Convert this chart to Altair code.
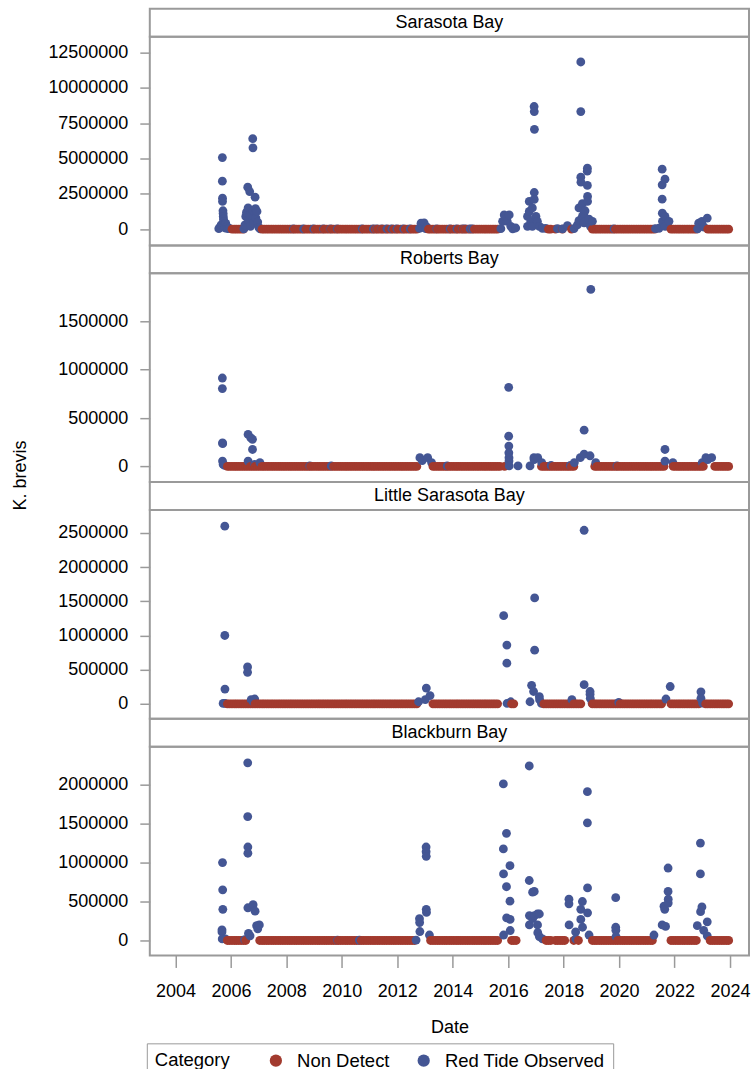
import altair as alt
import pandas as pd

# ---------------- data ----------------
bays = ["Sarasota Bay", "Roberts Bay", "Little Sarasota Bay", "Blackburn Bay"]
categories = ["Non Detect", "Red Tide Observed"]
cat_colors = ["#A23A2E", "#445694"]
year_ticks = list(range(2004, 2025, 2))

y_ticks = {
    "Sarasota Bay": [0, 2500000, 5000000, 7500000, 10000000, 12500000],
    "Roberts Bay": [0, 500000, 1000000, 1500000],
    "Little Sarasota Bay": [0, 500000, 1000000, 1500000, 2000000, 2500000],
    "Blackburn Bay": [0, 500000, 1000000, 1500000, 2000000],
}
y_domains = {
    "Sarasota Bay": [-1150000, 13610000],
    "Roberts Bay": [-162000, 1996000],
    "Little Sarasota Bay": [-219000, 2836000],
    "Blackburn Bay": [-192000, 2487000],
}

# Non Detect sampling months (K. brevis = 0), "year: months"
nd_sarasota = [
    "2006: 1 2 3 4 5 6", "2007: 2 3 4 5 6 7 8 9 10 11 12",
    "2008: 1 2 3 4 5 6 7 8 9 10 11 12", "2009: 1 2 3 4 5 6 7 8 9 10 11 12",
    "2010: 1 2 3 4 5 6 7 8 9 10 11 12", "2011: 1 2 3 4 5 6 7 8 9 10 11 12",
    "2012: 1 2 3 4 5 6 7 8 9", "2013: 2 3 4 5 6 7 8 9 10 11 12",
    "2014: 1 2 3 4 5 6 7 8 9 10 11 12", "2015: 1 2 3 4 5 6 7 8",
    "2017: 6 7 9 12", "2018: 4",
    "2019: 1 2 3 4 5 6 7 8 9 10 11 12", "2020: 1 2 3 4 5 6 7 8 9 10 11 12",
    "2021: 1 2 3 4 11 12", "2022: 1 2 3 4 5 6 7 8 9 10",
    "2023: 3 4 5 6 7 8 9 10 11 12",
]
nd_roberts = [
    "2005: 11 12", "2006: 1 2 3 4 5 6 7 8 9 10 11 12",
    "2007: 1 2 3 4 5 6 7 8 9 10 11 12", "2008: 1 2 3 4 5 6 7 8 9 10 11 12",
    "2009: 1 2 3 4 5 6 7 8 9 10 11 12", "2010: 1 2 3 4 5 6 7 8 9 10 11 12",
    "2011: 1 2 3 4 5 6 7 8 9 10 11 12", "2012: 1 2 3 4 5 6 7 8 9",
    "2013: 4 5 6 7 8 9 10 11 12", "2014: 1 2 3 4 5 6 7 8 9 10 11 12",
    "2015: 1 2 3 4 5 6 7 8 9 11", "2017: 3 4 5 6 7 8 9 10 11 12",
    "2018: 1 2 3 4 5", "2019: 2 3 4 5 6 7 8 9 10 11 12",
    "2020: 1 2 3 4 5 6 7 8 9 10 11 12", "2021: 1 2 3 4 5 6 7 8 12",
    "2022: 1 2 3 4 5 6 7 8 9 10 11 12", "2023: 1 6 7 8 9 10 11 12",
]
nd_little = [
    "2005: 11 12", "2006: 1 2 3 4 5 6 7 8 9 10 11 12",
    "2007: 1 2 3 4 5 6 7 8 9 10 11 12", "2008: 1 2 3 4 5 6 7 8 9 10 11 12",
    "2009: 1 2 3 4 5 6 7 8 9 10 11 12", "2010: 1 2 3 4 5 6 7 8 9 10 11 12",
    "2011: 1 2 3 4 5 6 7 8 9 10 11 12", "2012: 1 2 3 4 5 6 7 8 9",
    "2013: 4 5 6 7 8 9 10 11 12", "2014: 1 2 3 4 5 6 7 8 9 10 11 12",
    "2015: 1 2 3 4 5 6 7 8", "2016: 2 3", "2017: 4 5 6 7 8 9 10 11 12",
    "2018: 1 2 3 4 5 6 7 8", "2019: 1 2 3 4 5 6 7 8 9 10 11 12",
    "2020: 1 2 3 4 5 6 7 8 9 10 11 12", "2021: 1 2 3 4 5 6 7 11 12",
    "2022: 1 2 3 4 5 6 7 8 9 10 11", "2023: 2 3 4 5 6 7 8 9 10 11 12",
]
nd_blackburn = [
    "2005: 11 12", "2006: 1 2 3 4 5 6 7", "2007: 1 2 3 4 5 6 7 8 9 10 11 12",
    "2008: 1 2 3 4 5 6 7 8 9 10 11 12", "2009: 1 2 3 4 5 6 7 8 9 10 11 12",
    "2010: 1 2 3 4 5 6 7 8 9 10 11 12", "2011: 1 2 3 4 5 6 7 8 9 10 11 12",
    "2012: 1 2 3 4 5 6 7 8", "2013: 3 4 5 6 7 8 9 10 11 12",
    "2014: 1 2 3 4 5 6 7 8 9 10 11 12", "2015: 1 2 3 4 5 6 7 8",
    "2016: 2 3 4", "2017: 5 6 7 9 10 11 12", "2018: 1 5 7",
    "2019: 1 2 3 4 5 6 7 8 9 10 11 12", "2020: 1 2 3 4 5 6 7 8 9 10 11 12",
    "2021: 1 2 3 11 12", "2022: 1 2 3 4 5 6 7 8 9 10",
    "2023: 4 5 6 7 8 9 10 11 12",
]

# Red Tide Observed samples (date, cells/L)
rt_sarasota = [
    ("2005-07-25", 30000), ("2005-08-10", 120000), ("2005-08-25", 300000),
    ("2005-09-10", 5060000), ("2005-09-10", 3390000), ("2005-09-12", 2190000),
    ("2005-09-12", 1960000), ("2005-09-18", 1300000), ("2005-09-20", 1100000),
    ("2005-09-22", 900000), ("2005-09-25", 700000), ("2005-10-01", 540000),
    ("2005-10-05", 350000), ("2005-10-10", 200000), ("2005-10-15", 80000),
    ("2005-10-25", 400000), ("2005-11-05", 150000), ("2005-11-20", 30000),
    ("2005-12-10", 60000),
    ("2006-06-20", 20000), ("2006-07-05", 300000), ("2006-07-15", 900000),
    ("2006-07-25", 1200000), ("2006-08-10", 2970000), ("2006-08-15", 1500000),
    ("2006-08-20", 600000), ("2006-09-05", 2660000), ("2006-09-10", 1000000),
    ("2006-09-15", 200000), ("2006-10-15", 6400000), ("2006-10-18", 5750000),
    ("2006-10-20", 1300000), ("2006-10-25", 400000), ("2006-11-15", 2260000),
    ("2006-11-20", 1450000), ("2006-11-25", 800000), ("2006-12-10", 1250000),
    ("2006-12-20", 500000), ("2007-01-05", 100000), ("2007-01-20", 20000),
    ("2008-04-05", 15000), ("2008-08-15", 15000), ("2008-12-25", 15000),
    ("2009-05-05", 15000), ("2009-08-08", 15000), ("2009-11-03", 15000),
    ("2010-09-27", 15000), ("2011-02-20", 15000), ("2011-04-08", 15000),
    ("2011-06-13", 15000), ("2011-08-18", 15000), ("2011-10-23", 15000),
    ("2011-12-28", 15000), ("2012-03-25", 15000), ("2012-06-20", 15000),
    ("2012-10-20", 60000), ("2012-11-10", 420000), ("2012-12-01", 120000),
    ("2012-12-20", 440000), ("2013-01-10", 30000), ("2013-01-25", 150000),
    ("2013-06-05", 15000), ("2013-11-28", 15000), ("2014-02-25", 15000),
    ("2014-05-12", 15000), ("2014-06-13", 15000), ("2014-08-18", 15000),
    ("2014-09-20", 15000),
    ("2015-09-27", 30000), ("2015-10-20", 550000), ("2015-11-10", 1000000),
    ("2015-12-20", 550000), ("2016-01-15", 1000000), ("2016-02-05", 200000),
    ("2016-03-01", 20000), ("2016-04-10", 80000),
    ("2016-09-12", 900000), ("2016-09-12", 200000), ("2016-10-05", 1960000),
    ("2016-10-05", 1250000), ("2016-10-25", 550000), ("2016-11-15", 1500000),
    ("2016-11-15", 200000), ("2016-12-08", 8670000), ("2016-12-10", 8310000),
    ("2016-12-12", 7060000), ("2016-12-10", 2590000), ("2016-12-10", 2100000),
    ("2017-01-01", 900000), ("2017-01-20", 550000), ("2017-02-15", 200000),
    ("2017-03-28", 50000), ("2017-05-10", 50000),
    ("2017-10-12", 30000), ("2017-12-18", 20000), ("2018-02-20", 250000),
    ("2018-05-18", 40000),
    ("2018-07-01", 300000), ("2018-07-22", 1500000), ("2018-07-22", 600000),
    ("2018-08-15", 11820000), ("2018-08-15", 8310000), ("2018-08-15", 3670000),
    ("2018-08-17", 3320000), ("2018-09-05", 1800000), ("2018-09-05", 900000),
    ("2018-09-25", 1100000), ("2018-09-28", 450000), ("2018-10-10", 1300000),
    ("2018-11-08", 4100000), ("2018-11-10", 4310000), ("2018-11-10", 3090000),
    ("2018-11-12", 2310000), ("2018-11-12", 1960000), ("2018-12-02", 700000),
    ("2018-12-20", 200000), ("2019-01-15", 550000),
    ("2019-10-27", 20000),
    ("2021-04-25", 30000), ("2021-06-10", 60000), ("2021-07-22", 4240000),
    ("2021-07-22", 3130000), ("2021-07-22", 2120000), ("2021-07-24", 1130000),
    ("2021-07-26", 550000), ("2021-08-28", 3530000), ("2021-08-28", 900000),
    ("2021-08-30", 200000), ("2021-10-20", 550000),
    ("2022-11-01", 20000), ("2022-11-15", 420000), ("2022-12-28", 550000),
    ("2023-01-25", 150000), ("2023-03-08", 780000),
]
rt_roberts = [
    ("2005-09-10", 914000), ("2005-09-10", 805000), ("2005-09-12", 244000),
    ("2005-09-14", 235000), ("2005-09-12", 55000), ("2005-09-20", 20000),
    ("2005-10-10", 10000),
    ("2006-08-15", 330000), ("2006-08-15", 55000), ("2006-09-20", 295000),
    ("2006-10-12", 280000), ("2006-10-12", 175000), ("2006-11-10", 20000),
    ("2007-01-18", 40000),
    ("2008-11-05", 5000), ("2009-08-15", 5000),
    ("2012-10-25", 90000), ("2012-11-25", 60000), ("2013-02-05", 90000),
    ("2013-03-28", 40000), ("2013-10-20", 5000),
    ("2016-01-08", 818000), ("2016-01-08", 312000), ("2016-01-10", 210000),
    ("2016-01-10", 140000), ("2016-01-12", 90000), ("2016-01-12", 55000),
    ("2016-01-15", 5000), ("2016-05-10", 5000),
    ("2016-10-15", 5000), ("2016-12-05", 90000), ("2016-12-08", 70000),
    ("2017-01-25", 90000), ("2017-03-18", 40000),
    ("2017-07-20", 10000), ("2018-04-01", 10000),
    ("2018-05-22", 40000), ("2018-08-08", 90000), ("2018-09-28", 375000),
    ("2018-09-28", 127000), ("2018-12-15", 110000), ("2018-12-25", 1830000),
    ("2019-02-28", 40000), ("2019-12-05", 5000),
    ("2021-08-28", 175000), ("2021-08-28", 55000), ("2021-12-10", 40000),
    ("2023-01-01", 40000), ("2023-02-18", 90000), ("2023-03-15", 70000),
    ("2023-05-05", 90000),
]
rt_little = [
    ("2005-09-20", 5000), ("2005-10-12", 2600000), ("2005-10-12", 1000000),
    ("2005-10-14", 215000), ("2005-10-16", 5000),
    ("2006-08-08", 540000), ("2006-08-08", 460000), ("2006-09-25", 60000),
    ("2006-10-20", 30000), ("2006-11-10", 70000),
    ("2012-10-08", 30000), ("2013-01-05", 60000), ("2013-01-18", 230000),
    ("2013-03-08", 120000),
    ("2015-11-03", 1290000), ("2015-12-15", 860000), ("2015-12-15", 595000),
    ("2015-12-18", 5000), ("2016-02-03", 30000),
    ("2016-10-15", 30000), ("2016-11-05", 270000), ("2016-12-01", 180000),
    ("2016-12-15", 1550000), ("2016-12-15", 785000), ("2017-02-15", 105000),
    ("2017-02-18", 60000), ("2017-03-15", 5000),
    ("2018-04-20", 60000), ("2018-09-28", 2540000), ("2018-09-28", 280000),
    ("2018-12-15", 180000), ("2018-12-15", 140000), ("2018-12-18", 80000),
    ("2019-01-10", 10000), ("2019-12-28", 20000),
    ("2021-09-10", 70000), ("2021-11-05", 253000),
    ("2022-12-15", 175000), ("2022-12-15", 80000), ("2023-01-05", 10000),
]
rt_blackburn = [
    ("2005-09-05", 137000), ("2005-09-05", 110000), ("2005-09-08", 20000),
    ("2005-09-12", 1000000), ("2005-09-14", 650000), ("2005-09-16", 400000),
    ("2005-10-20", 20000), ("2006-07-01", 10000),
    ("2006-08-10", 2280000), ("2006-08-10", 1590000), ("2006-08-12", 1200000),
    ("2006-08-12", 1120000), ("2006-08-12", 420000), ("2006-08-20", 90000),
    ("2006-09-10", 60000), ("2006-10-20", 460000), ("2006-11-15", 376000),
    ("2006-12-05", 190000), ("2006-12-20", 150000), ("2007-01-10", 200000),
    ("2009-11-05", 5000), ("2010-08-20", 5000),
    ("2012-09-05", 5000), ("2012-10-20", 280000), ("2012-10-22", 230000),
    ("2012-10-25", 115000), ("2013-01-15", 1200000), ("2013-01-15", 1140000),
    ("2013-01-17", 1080000), ("2013-01-17", 400000), ("2013-01-20", 360000),
    ("2013-02-28", 70000),
    ("2015-10-30", 2010000), ("2015-10-30", 1175000), ("2015-11-01", 855000),
    ("2015-11-02", 70000), ("2015-12-10", 1375000), ("2015-12-10", 690000),
    ("2015-12-12", 290000), ("2016-01-25", 960000), ("2016-01-25", 505000),
    ("2016-01-27", 270000), ("2016-01-28", 128000),
    ("2016-10-05", 2240000), ("2016-10-05", 770000), ("2016-10-07", 320000),
    ("2016-10-07", 200000), ("2016-11-18", 620000), ("2016-11-18", 280000),
    ("2016-12-10", 630000), ("2016-12-12", 320000), ("2017-01-20", 340000),
    ("2017-01-22", 200000), ("2017-01-25", 100000), ("2017-02-15", 340000),
    ("2017-02-15", 50000), ("2017-03-28", 20000),
    ("2018-03-12", 530000), ("2018-03-12", 470000), ("2018-03-14", 200000),
    ("2018-06-08", 110000), ("2018-06-10", 20000), ("2018-08-15", 400000),
    ("2018-08-15", 270000), ("2018-09-05", 500000), ("2018-09-07", 170000),
    ("2018-11-10", 1910000), ("2018-11-10", 1510000), ("2018-11-12", 675000),
    ("2018-11-12", 355000), ("2018-12-02", 70000),
    ("2019-11-18", 550000), ("2019-11-18", 170000), ("2019-11-20", 130000),
    ("2019-11-22", 50000),
    ("2021-04-05", 70000), ("2021-07-22", 200000), ("2021-08-15", 440000),
    ("2021-08-25", 400000), ("2021-09-05", 180000), ("2021-10-08", 930000),
    ("2021-10-08", 630000), ("2021-10-10", 530000), ("2021-10-10", 480000),
    ("2022-10-28", 190000), ("2022-12-08", 1250000), ("2022-12-08", 855000),
    ("2022-12-10", 370000), ("2022-12-28", 430000), ("2023-01-20", 130000),
    ("2023-03-08", 240000), ("2023-03-08", 60000),
]

nd_lists = {"Sarasota Bay": nd_sarasota, "Roberts Bay": nd_roberts,
            "Little Sarasota Bay": nd_little, "Blackburn Bay": nd_blackburn}
rt_lists = {"Sarasota Bay": rt_sarasota, "Roberts Bay": rt_roberts,
            "Little Sarasota Bay": rt_little, "Blackburn Bay": rt_blackburn}


def bay_frame(bay):
    rows = []
    for line in nd_lists[bay]:
        yr, months = line.split(":")
        for m in months.split():
            rows.append({"date": f"{yr.strip()}-{int(m):02d}-15", "value": 0,
                         "category": categories[0]})
    for d, v in rt_lists[bay]:
        rows.append({"date": d, "value": v, "category": categories[1]})
    df = pd.DataFrame(rows)
    df = df.sort_values("date", kind="mergesort").reset_index(drop=True)
    return df


# ---------------- chart ----------------
FONT = "Liberation Sans"
W = 600
HEAD_H = 28
PLOT_H = 209
GRAY = "#9a9a9a"

x_domain = [alt.DateTime(year=2003, month=1, date=28),
            alt.DateTime(year=2024, month=9, date=8)]

parts = []
for i, bay in enumerate(bays):
    header = alt.Chart(pd.DataFrame({"bay": [bay]})).mark_text(
        font=FONT, fontSize=18, color="black", align="center", baseline="middle"
    ).encode(
        text="bay:N", x=alt.value(W / 2), y=alt.value(HEAD_H / 2)
    ).properties(width=W, height=HEAD_H)
    parts.append(header)

    last = i == len(bays) - 1
    if last:
        xaxis = alt.Axis(
            values=[alt.DateTime(year=y, month=1, date=1) for y in year_ticks],
            format="%Y", title="Date", labelFontSize=18, titleFontSize=18,
            titleFontWeight="normal", labelFont=FONT, titleFont=FONT,
            labelColor="black", titleColor="black", tickSize=12, tickColor=GRAY,
            tickWidth=1.5, labelPadding=15, titlePadding=18, domain=False,
            grid=False, labelFlush=False, labelOverlap=False,
        )
    else:
        xaxis = None

    yaxis_kw = dict(
        values=y_ticks[bay], format="d", labelFontSize=18, labelFont=FONT,
        labelColor="black", tickSize=10, tickColor=GRAY, tickWidth=1.5,
        labelPadding=12, domain=False, grid=False,
    )
    if bay == "Roberts Bay":
        yaxis = alt.Axis(title="K. brevis", titleFont=FONT, titleFontSize=18,
                         titleFontWeight="normal", titleColor="black",
                         titleAngle=270, titleX=-129, titleY=202,
                         titleAlign="center", titleBaseline="middle", **yaxis_kw)
    else:
        yaxis = alt.Axis(title=None, **yaxis_kw)

    if last:
        legend = alt.Legend(
            title="Category", orient="none", legendX=-3, legendY=297,
            direction="horizontal", titleOrient="left", strokeColor=GRAY,
            padding=8, symbolType="circle", symbolSize=150, symbolStrokeWidth=0,
            labelFontSize=18.5, titleFontSize=18.5, titleFontWeight="normal",
            labelFont=FONT, titleFont=FONT, labelColor="black",
            titleColor="black", columnPadding=24, titlePadding=36,
            labelOffset=12,
        )
    else:
        legend = None

    plot = alt.Chart(bay_frame(bay)).mark_circle(size=78, opacity=1).encode(
        x=alt.X("date:T", scale=alt.Scale(domain=x_domain), axis=xaxis),
        y=alt.Y("value:Q",
                scale=alt.Scale(domain=y_domains[bay], nice=False, zero=False),
                axis=yaxis),
        color=alt.Color("category:N",
                        scale=alt.Scale(domain=categories, range=cat_colors),
                        legend=legend),
    ).properties(width=W, height=PLOT_H)
    parts.append(plot)

chart = alt.vconcat(*parts, spacing=0, bounds="flush").resolve_scale(
    color="independent", x="independent", y="independent"
).properties(
    padding={"left": 11, "top": 7, "right": 0, "bottom": 0},
    background="white",
).configure_view(stroke=GRAY, strokeWidth=2)

chart.save("out.html", embed_options={"renderer": "svg", "actions": False})
